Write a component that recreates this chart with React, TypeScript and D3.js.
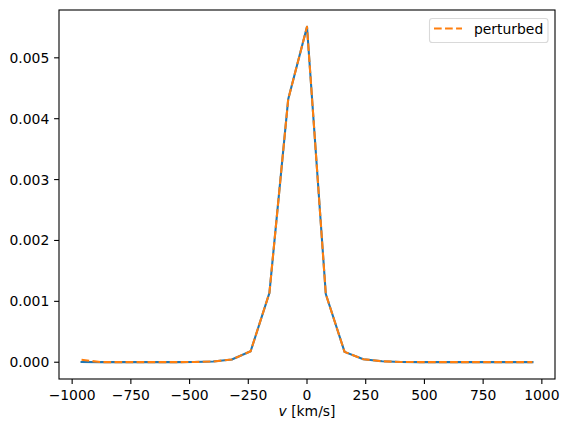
import React from "react";
import * as d3 from "d3";

const velocities = [-960, -880, -800, -720, -640, -560, -480, -400, -320, -240, -160, -80, 0, 80, 160, 240, 320, 400, 480, 560, 640, 720, 800, 880, 960];
const original = [0.000003, 0.000002, 0.000002, 0.000002, 0.000002, 0.000002, 0.000003, 0.000012, 0.000045, 0.00018, 0.00114, 0.00432, 0.00551, 0.00112, 0.00017, 0.00005, 0.000015, 0.000005, 0.000002, 0.000002, 0.000002, 0.000002, 0.000002, 0.000002, 0.000002];
const perturbed = [0.00004, 0.000002, 0.000002, 0.000002, 0.000002, 0.000002, 0.000003, 0.000012, 0.000045, 0.00018, 0.00114, 0.00432, 0.00551, 0.00112, 0.00017, 0.00005, 0.000015, 0.000005, 0.000002, 0.000002, 0.000002, 0.000002, 0.000002, 0.000002, 0.000002];
const xTicks = [-1000, -750, -500, -250, 0, 250, 500, 750, 1000];
const yTicks = [0, 0.001, 0.002, 0.003, 0.004, 0.005];

const W = 569, H = 435;
const L = 59, R = 555, T = 10, B = 379;
const FONT = "DejaVu Sans, sans-serif";
const FS = 13.9;

export default function App() {
  const x = d3.scaleLinear().domain([-1056, 1056]).range([L, R]);
  const y = d3.scaleLinear().domain([-0.0002755, 0.0057855]).range([B, T]);
  const line = d3.line<number>().x((_, i) => x(velocities[i])).y((d) => y(d));
  const fmtX = (v: number) => (v < 0 ? "\u2212" + Math.abs(v) : String(v));
  return (
    <svg width={W} height={H} style={{ position: "absolute", left: 0, top: 0, background: "#fff" }}>
      <rect x={0} y={0} width={W} height={H} fill="#fff" />
      <path d={line(original) || ""} fill="none" stroke="#1f77b4" strokeWidth={2.08} strokeLinejoin="round" strokeLinecap="square" />
      <path d={line(perturbed) || ""} fill="none" stroke="#ff7f0e" strokeWidth={2.08} strokeDasharray="7.7,3.33" strokeLinejoin="round" />
      <rect x={L} y={T} width={R - L} height={B - T} fill="none" stroke="#000" strokeWidth={1.1} />
      {xTicks.map((t) => (
        <g key={t}>
          <line x1={x(t)} x2={x(t)} y1={B} y2={B + 4.9} stroke="#000" strokeWidth={1.1} />
          <text x={x(t)} y={B + 21} textAnchor="middle" fontFamily={FONT} fontSize={FS} fill="#000">{fmtX(t)}</text>
        </g>
      ))}
      {yTicks.map((t) => (
        <g key={t}>
          <line x1={L - 4.9} x2={L} y1={y(t)} y2={y(t)} stroke="#000" strokeWidth={1.1} />
          <text x={L - 9.7} y={y(t) + 5} textAnchor="end" fontFamily={FONT} fontSize={FS} fill="#000">{t.toFixed(3)}</text>
        </g>
      ))}
      <text x={(L + R) / 2} y={416} textAnchor="middle" fontFamily={FONT} fontSize={FS} fill="#000">
        <tspan fontStyle="italic">v</tspan> [km/s]
      </text>
      <g>
        <rect x={429.5} y={18.5} width={118.5} height={24} rx={2.8} fill="#fff" fillOpacity={0.8} stroke="#d9d9d9" strokeWidth={1.1} />
        <line x1={434} x2={462} y1={28.5} y2={28.5} stroke="#ff7f0e" strokeWidth={2.08} strokeDasharray="7.7,3.33" />
        <text x={474} y={33.5} fontFamily={FONT} fontSize={FS} fill="#000">perturbed</text>
      </g>
    </svg>
  );
}
